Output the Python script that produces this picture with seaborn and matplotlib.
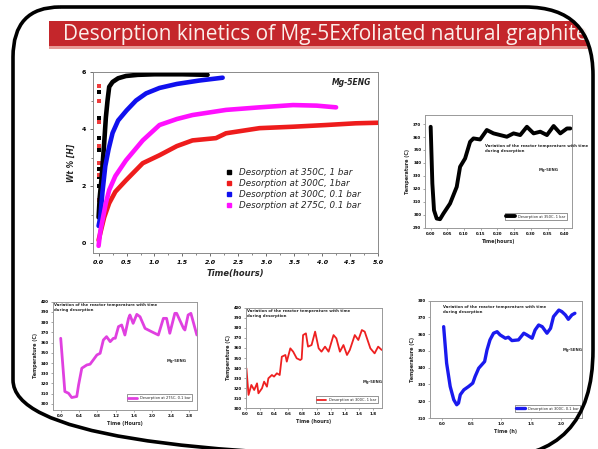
import numpy as np
import pandas as pd
import matplotlib
matplotlib.use("Agg")
import matplotlib.pyplot as plt
import seaborn as sns
from matplotlib.path import Path
from matplotlib.patches import PathPatch, Rectangle
from matplotlib.lines import Line2D

# ---------------- data ----------------
title_text = "Desorption kinetics of Mg-5Exfoliated natural graphite"

series_labels = ["Desorption at 350C, 1 bar", "Desorption at 300C, 1bar",
                 "Desorption at 300C, 0.1 bar", "Desorption at 275C, 0.1 bar"]
series_colors = ["#000000", "#ee1c1c", "#1010ee", "#ff10ff"]

black_t = [0.0, 0.02, 0.05, 0.07, 0.10, 0.13, 0.16, 0.19, 0.25, 0.35, 0.49, 0.7, 1.0, 1.5, 1.95]
black_wt = [0.9, 1.6, 2.2, 2.7, 3.5, 4.4, 5.0, 5.48, 5.65, 5.78, 5.86, 5.9, 5.92, 5.92, 5.9]
red_t = [0.0, 0.05, 0.1, 0.19, 0.3, 0.49, 0.79, 1.09, 1.4, 1.68, 2.1, 2.28, 2.88, 3.48, 4.07, 4.6, 5.0]
red_wt = [0.1, 0.5, 0.9, 1.4, 1.8, 2.2, 2.8, 3.08, 3.4, 3.6, 3.68, 3.85, 4.03, 4.08, 4.14, 4.2, 4.22]
blue_t = [0.0, 0.03, 0.07, 0.12, 0.18, 0.25, 0.35, 0.5, 0.67, 0.85, 1.09, 1.4, 1.8, 2.22]
blue_wt = [0.6, 0.9, 1.8, 2.7, 3.3, 3.86, 4.3, 4.65, 5.0, 5.25, 5.44, 5.58, 5.7, 5.8]
mag_t = [0.0, 0.03, 0.08, 0.13, 0.19, 0.3, 0.49, 0.79, 1.09, 1.4, 1.68, 2.28, 2.88, 3.48, 3.9, 4.25]
mag_wt = [-0.1, 0.4, 0.9, 1.4, 1.86, 2.35, 2.9, 3.6, 4.14, 4.35, 4.49, 4.67, 4.76, 4.84, 4.82, 4.76]
black_dots_wt = [5.3, 4.4, 3.7, 3.25, 2.6, 2.3, 2.0]
red_dots_wt = [5.5, 5.0, 4.25, 3.4, 2.8, 2.4, 1.5]

main_xticks = [0.0, 0.5, 1.0, 1.5, 2.0, 2.5, 3.0, 3.5, 4.0, 4.5, 5.0]
main_yticks = [0, 2, 4, 6]

# reactor temperature panels
tr_t = [0.000, 0.005, 0.010, 0.018, 0.028, 0.038, 0.058, 0.078, 0.088, 0.103, 0.118, 0.128, 0.148,
        0.168, 0.188, 0.208, 0.228, 0.248, 0.268, 0.288, 0.308, 0.328, 0.348, 0.368, 0.388, 0.408, 0.418]
tr_T = [367.9, 324.1, 303.4, 297.0, 296.5, 300.8, 308.6, 321.5, 337.0, 343.4, 356.3, 358.9, 358.1,
        365.4, 362.8, 361.5, 360.2, 362.8, 361.5, 367.9, 362.8, 364.1, 361.5, 368.5, 362.8, 366.6, 366.6]

bl_t = [0.00, 0.09, 0.17, 0.24, 0.35, 0.39, 0.46, 0.57, 0.64, 0.71, 0.79, 0.86, 0.93, 1.00, 1.08,
        1.15, 1.19, 1.26, 1.33, 1.40, 1.48, 1.51, 1.58, 1.66, 1.73, 1.84, 1.98, 2.13, 2.24, 2.31,
        2.38, 2.49, 2.53, 2.68, 2.71, 2.78, 2.84, 2.89, 2.97]
bl_T = [364.2, 312.1, 310.4, 306.2, 307.2, 318.6, 334.9, 338.1, 338.8, 343.0, 347.9, 349.5, 362.5,
        365.8, 360.9, 364.2, 364.2, 375.6, 377.2, 367.4, 383.7, 387.0, 378.8, 387.6, 385.3, 373.9,
        370.7, 367.4, 383.7, 383.7, 369.1, 388.6, 388.6, 373.9, 372.3, 387.0, 388.6, 380.5, 367.4]

bm_t = [0.01, 0.04, 0.08, 0.12, 0.16, 0.18, 0.23, 0.26, 0.30, 0.32, 0.37, 0.40, 0.44, 0.48, 0.51,
        0.56, 0.58, 0.63, 0.67, 0.72, 0.77, 0.79, 0.81, 0.85, 0.88, 0.93, 0.98, 1.03, 1.07, 1.12,
        1.17, 1.24, 1.28, 1.33, 1.38, 1.43, 1.47, 1.54, 1.59, 1.64, 1.68, 1.76, 1.82, 1.87, 1.92]
bm_T = [339.7, 313.3, 323.2, 318.2, 324.8, 314.9, 319.9, 326.5, 321.5, 329.8, 333.1, 331.5, 334.8,
        333.1, 351.3, 353.0, 346.4, 359.6, 356.3, 349.7, 348.0, 349.0, 372.8, 374.5, 361.3, 362.9,
        376.2, 359.6, 356.3, 361.3, 356.3, 372.8, 369.5, 356.3, 362.9, 353.0, 358.0, 372.8, 367.9,
        377.8, 376.2, 359.6, 354.6, 361.3, 358.0]

br_t = [0.03, 0.08, 0.14, 0.20, 0.25, 0.28, 0.31, 0.37, 0.45, 0.52, 0.56, 0.62, 0.67, 0.72, 0.76,
        0.81, 0.87, 0.93, 0.98, 1.07, 1.12, 1.18, 1.29, 1.38, 1.43, 1.52, 1.57, 1.63, 1.69, 1.77,
        1.83, 1.88, 1.97, 2.02, 2.08, 2.13, 2.19, 2.24]
br_T = [364.5, 342.7, 328.8, 320.9, 317.9, 318.9, 323.9, 326.8, 328.8, 330.8, 334.8, 339.7, 341.7,
        343.7, 350.6, 356.6, 360.6, 361.5, 359.6, 357.6, 358.2, 356.2, 356.6, 360.6, 359.6, 357.6,
        362.5, 365.5, 364.5, 360.6, 363.5, 370.5, 374.4, 373.5, 371.5, 368.9, 371.5, 372.5]

tr_xticks = [0.00, 0.05, 0.10, 0.15, 0.20, 0.25, 0.30, 0.35, 0.40]
tr_yticks = [290, 300, 310, 320, 330, 340, 350, 360, 370]
bl_xticks = [0.0, 0.4, 0.8, 1.2, 1.6, 2.0, 2.4, 2.8]
bl_yticks = [300, 310, 320, 330, 340, 350, 360, 370, 380, 390, 400]
bm_xticks = [0.0, 0.2, 0.4, 0.6, 0.8, 1.0, 1.2, 1.4, 1.6, 1.8]
bm_yticks = [300, 310, 320, 330, 340, 350, 360, 370, 380, 390, 400]
br_xticks = [0.0, 0.5, 1.0, 1.5, 2.0]
br_yticks = [310, 320, 330, 340, 350, 360, 370, 380]

note_text = "Variation of the reactor temperature with time\nduring desorption"
sample_text = "Mg-5ENG"

# ---------------- style ----------------
sns.set_style("ticks")
plt.rcParams['font.family'] = ['DejaVu Sans']
plt.rcParams['axes.linewidth'] = 0.7

W, H = 598, 449
fig = plt.figure(figsize=(W / 100, H / 100), dpi=100)
fig.patch.set_facecolor("white")


def px_axes(l, r, t, b):
    return fig.add_axes([l / W, 1 - b / H, (r - l) / W, (b - t) / H])


def style_spines(ax, col="#8a8a8a"):
    for s in ax.spines.values():
        s.set_color(col)
        s.set_linewidth(0.7)


# ---------------- main plot ----------------
ax = px_axes(93, 378, 72, 253)
main_series = [(black_t, black_wt), (red_t, red_wt), (blue_t, blue_wt), (mag_t, mag_wt)]
for (t, w), col in zip(main_series, series_colors):
    df = pd.DataFrame({"t": t, "w": w})
    sns.lineplot(data=df, x="t", y="w", color=col, lw=3.3, ax=ax, legend=False, sort=False)
sns.scatterplot(x=[0.0] * len(black_dots_wt), y=black_dots_wt, color="black", s=5, marker="s",
                ax=ax, legend=False, linewidth=0)
sns.scatterplot(x=[0.0] * len(red_dots_wt), y=red_dots_wt, color="#ee3c3c", s=5, marker="s",
                ax=ax, legend=False, linewidth=0)
ax.set_xlim(-0.1, 5.0)
ax.set_ylim(-0.35, 6.0)
ax.set_xticks(main_xticks)
ax.set_xticklabels([f"{v:.1f}" for v in main_xticks], fontsize=4.5, fontweight="bold", style="italic")
ax.set_yticks(main_yticks)
ax.set_yticklabels([str(v) for v in main_yticks], fontsize=4.5, fontweight="bold")
ax.set_yticks([1, 3, 5], minor=True)
ax.set_xticks([0.25 + 0.5 * i for i in range(10)], minor=True)
ax.tick_params(length=2, width=0.6, pad=3, colors="#555555", labelcolor="black")
ax.tick_params(which="minor", length=1.2, width=0.5, colors="#555555")
ax.set_xlabel("Time(hours)", fontsize=6, fontweight="bold", style="italic", labelpad=3)
ax.set_ylabel("Wt % [H]", fontsize=5.5, fontweight="bold", style="italic", labelpad=4)
style_spines(ax)
ax.text(0.975, 0.94, sample_text, transform=ax.transAxes, ha="right", va="center",
        fontsize=5.5, fontweight="bold", style="italic", color="#222222")
handles = [Line2D([], [], ls="none", marker="s", ms=3, color=c) for c in series_colors]
ax.legend(handles, series_labels, loc="upper left", bbox_to_anchor=(0.45, 0.49), frameon=False,
          prop={"size": 6.3, "style": "italic"}, handletextpad=0.6, labelspacing=0.25,
          handlelength=1.0, borderaxespad=0)


# ---------------- small temperature panels ----------------
def panel(px, t, T, color, lw, xlim, ylim, xticks, yticks, xfmt, xlabel, leg_label,
          leg_anchor, note_xy, mg_xy):
    a = px_axes(*px)
    df = pd.DataFrame({"t": t, "T": T})
    sns.lineplot(data=df, x="t", y="T", color=color, lw=lw, ax=a, sort=False, label=leg_label)
    a.set_xlim(*xlim)
    a.set_ylim(*ylim)
    a.set_xticks(xticks)
    a.set_xticklabels([xfmt.format(v) for v in xticks], fontsize=2.8, fontweight="bold")
    a.set_yticks(yticks)
    a.set_yticklabels([str(v) for v in yticks], fontsize=2.8, fontweight="bold")
    a.tick_params(length=1.2, width=0.4, pad=1.5, colors="#666666", labelcolor="black")
    a.set_xlabel(xlabel, fontsize=3.5, fontweight="bold", labelpad=2)
    a.set_ylabel("Temperature (C)", fontsize=3.5, fontweight="bold", labelpad=2)
    style_spines(a, "#999999")
    a.text(note_xy[0], note_xy[1], note_text, transform=a.transAxes, ha="left", va="top",
           fontsize=2.8, fontweight="bold", linespacing=1.3)
    a.text(mg_xy[0], mg_xy[1], sample_text, transform=a.transAxes, ha="left", va="center",
           fontsize=2.8, fontweight="bold")
    leg = a.legend(loc="lower right", bbox_to_anchor=leg_anchor, fontsize=2.6, frameon=True,
                   fancybox=False, edgecolor="#444444", framealpha=1, handlelength=2.5,
                   borderpad=0.4, borderaxespad=0)
    leg.get_frame().set_linewidth(0.4)
    return a


panel((425, 572, 115, 228), tr_t, tr_T, "black", 2.8, (-0.017, 0.423), (289.7, 377),
      tr_xticks, tr_yticks, "{:.2f}", "Time(hours)", "Desorption at 350C, 1 bar",
      (0.966, 0.07), (0.41, 0.74), (0.77, 0.51))
panel((52.7, 196.7, 301.7, 410), bl_t, bl_T, "#e040e0", 2.0, (-0.175, 2.967), (294, 400),
      bl_xticks, bl_yticks, "{:.1f}", "Time (Hours)", "Desorption at 275C, 0.1 bar",
      (0.97, 0.08), (0.01, 0.985), (0.79, 0.45))
panel((245.7, 381.7, 307.7, 408.3), bm_t, bm_T, "#ee2020", 1.3, (0.0, 1.92), (300, 400),
      bm_xticks, bm_yticks, "{:.1f}", "Time (hours)", "Desorption at 300C, 1 bar",
      (0.97, 0.05), (0.01, 0.985), (0.86, 0.26))
panel((430, 582, 300.7, 418), br_t, br_T, "#1a1aee", 2.4, (-0.2, 2.36), (310, 380),
      br_xticks, br_yticks, "{:.1f}", "Time (h)", "Desorption at 300C, 0.1 bar",
      (0.99, 0.05), (0.085, 0.96), (0.87, 0.58))

# ---------------- slide frame & banner ----------------
ov = fig.add_axes([0, 0, 1, 1], zorder=20)
ov.set_xlim(0, W)
ov.set_ylim(H, 0)
ov.axis("off")
ov.patch.set_alpha(0)

verts = [(60, 7), (525, 7), (593, 7), (593, 75), (593, 350), (593, 458), (490, 458),
         (90, 458), (13, 458), (13, 380), (13, 57), (13, 7), (60, 7), (60, 7)]
codes = [Path.MOVETO, Path.LINETO, Path.CURVE3, Path.CURVE3, Path.LINETO, Path.CURVE3, Path.CURVE3,
         Path.LINETO, Path.CURVE3, Path.CURVE3, Path.LINETO, Path.CURVE3, Path.CURVE3, Path.CLOSEPOLY]
frame = PathPatch(Path(verts, codes), fill=False, edgecolor="black", lw=2.6, zorder=5)
ov.add_patch(frame)

banner = Rectangle((49, 21), 545, 26, facecolor="#c4262b", edgecolor="none", zorder=2)
ov.add_patch(banner)
banner.set_clip_path(frame)
band = Rectangle((49, 46), 545, 2.5, facecolor="#e79a96", edgecolor="none", zorder=2)
ov.add_patch(band)
band.set_clip_path(frame)
bt = ov.text(63, 34.5, title_text, ha="left", va="center", fontsize=15.0, color="#fbeeea",
             family=["Open Sans", "DejaVu Sans"], zorder=3)
bt.set_clip_path(frame)

fig.savefig("out.png", dpi=100, facecolor="white")
